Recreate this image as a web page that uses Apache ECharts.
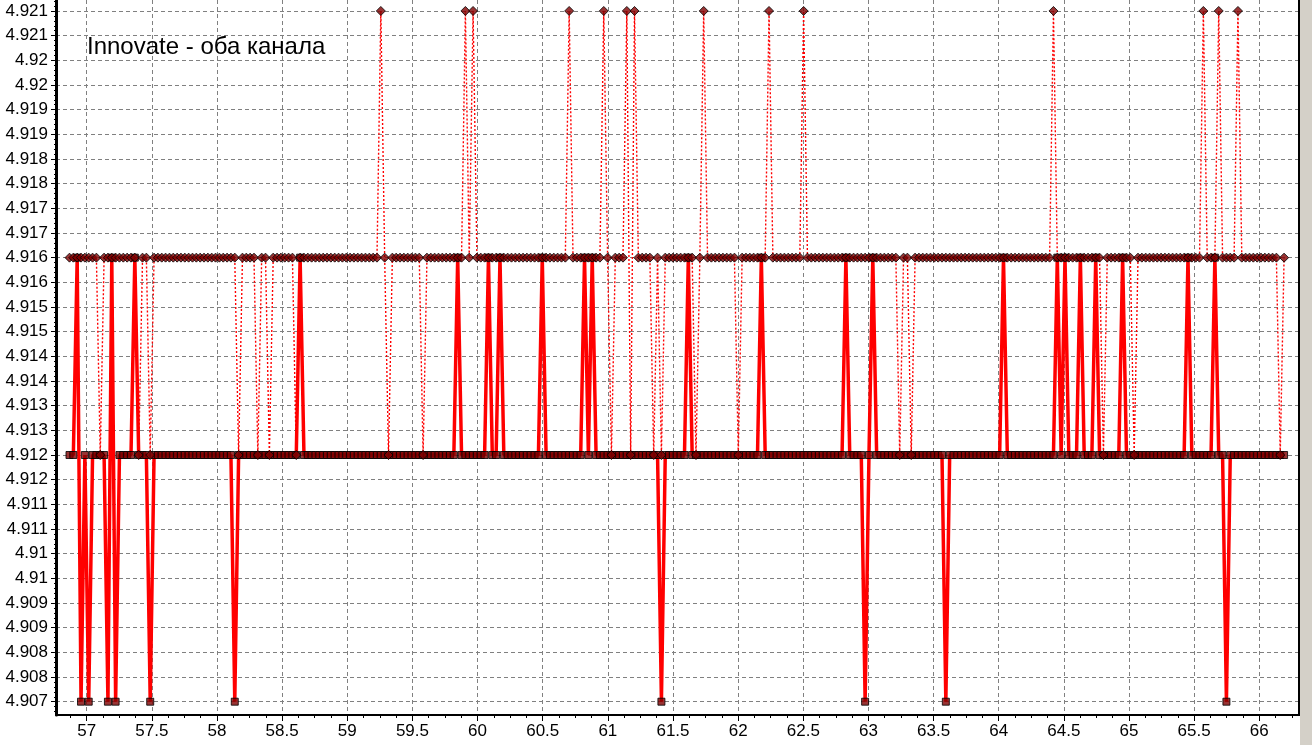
<!DOCTYPE html>
<html><head><meta charset="utf-8">
<script src="https://cdn.jsdelivr.net/npm/echarts@6/dist/echarts.min.js"></script>
<style>html,body{margin:0;padding:0;background:#fff;overflow:hidden}#c{width:1312px;height:745px}</style>
</head><body><div id="c"></div>
<script>
// ---- data ----
const titleText = 'Innovate - оба канала';
const sampleStart = 56.868;   // time of first logged sample
const sampleStep = 0.0295;    // logger sample period
// channel A (diamonds, dotted line): [value, number of consecutive samples]
const chanA_runs = [
  [4.916,8],[4.912,1],[4.916,9],[4.912,1],[4.916,2],[4.912,1],[4.916,22],[4.912,1],
  [4.916,4],[4.912,1],[4.916,2],[4.912,1],[4.916,6],[4.912,1],[4.916,21],[4.921,1],
  [4.916,1],[4.912,1],[4.916,8],[4.912,1],[4.916,10],[4.921,1],[4.916,1],[4.921,1],
  [4.916,24],[4.921,1],[4.916,8],[4.921,1],[4.916,1],[4.912,1],[4.916,3],[4.921,1],
  [4.912,1],[4.921,1],[4.916,4],[4.912,1],[4.916,1],[4.912,1],[4.916,8],[4.912,1],
  [4.916,1],[4.921,1],[4.916,8],[4.912,1],[4.916,7],[4.921,1],[4.916,8],[4.921,1],
  [4.916,24],[4.912,1],[4.916,2],[4.912,1],[4.916,36],[4.921,1],[4.916,12],[4.912,1],
  [4.916,7],[4.912,1],[4.916,17],[4.921,1],[4.916,3],[4.921,1],[4.916,4],[4.921,1],
  [4.916,10],[4.912,1],[4.916,1]
];
// channel B (squares, thick line)
const chanB_runs = [
  [4.912,2],[4.916,1],[4.907,1],[4.912,1],[4.907,1],[4.912,4],[4.907,1],[4.916,1],
  [4.907,1],[4.912,4],[4.916,1],[4.912,3],[4.907,1],[4.912,21],[4.907,1],[4.912,16],
  [4.916,1],[4.912,40],[4.916,1],[4.912,7],[4.916,1],[4.912,2],[4.916,1],[4.912,10],
  [4.916,1],[4.912,10],[4.916,1],[4.912,1],[4.916,1],[4.912,17],[4.907,1],[4.912,6],
  [4.916,1],[4.912,18],[4.916,1],[4.912,21],[4.916,1],[4.912,4],[4.907,1],[4.912,1],
  [4.916,1],[4.912,18],[4.907,1],[4.912,14],[4.916,1],[4.912,13],[4.916,1],[4.912,1],
  [4.916,1],[4.912,3],[4.916,1],[4.912,3],[4.916,1],[4.912,6],[4.916,1],[4.912,16],
  [4.916,1],[4.912,6],[4.916,1],[4.912,2],[4.907,1],[4.912,15]
];
const xTickValues = [57,57.5,58,58.5,59,59.5,60,60.5,61,61.5,62,62.5,63,63.5,64,64.5,65,65.5,66];
const yTickValues = [4.907,4.9075,4.908,4.9085,4.909,4.9095,4.91,4.9105,4.911,4.9115,4.912,4.9125,4.913,4.9135,
  4.914,4.9145,4.915,4.9155,4.916,4.9165,4.917,4.9175,4.918,4.9185,4.919,4.9195,4.92,4.9205,4.921];
const yTickLabels = ['4.907','4.908','4.908','4.909','4.909','4.91','4.91','4.911','4.911','4.912','4.912','4.913','4.913','4.914',
  '4.914','4.915','4.915','4.916','4.916','4.917','4.917','4.918','4.918','4.919','4.919','4.92','4.92','4.921','4.921'];

// ---- build ----
function expand(runs){const out=[];runs.forEach(r=>{for(let k=0;k<r[1];k++)out.push(r[0]);});return out;}
const valsA = expand(chanA_runs), valsB = expand(chanB_runs);
const dataA = valsA.map((v,i)=>[sampleStart+i*sampleStep, v]);
const dataB = valsB.map((v,i)=>[sampleStart+i*sampleStep, v]);

const xMin = 56.7644, xMax = 66.3046, yMin = 4.9067304, yMax = 4.921222;
const xMinor = []; for (let k=0;k<=80;k++){const v=56.875+k*0.125; if(v<xMax) xMinor.push(+v.toFixed(3));}
const yMinor = []; for (let k=0;k<=150;k++){const v=4.9068+k*0.0001; if(v<yMax) yMinor.push(+v.toFixed(4));}

const font = 'Arial, "Liberation Sans", sans-serif';
const chart = echarts.init(document.getElementById('c'), null, {renderer:'canvas'});
chart.setOption({
  animation:false,
  backgroundColor:'#ffffff',
  grid:{left:56, right:13, top:0, bottom:30, containLabel:false},
  xAxis:[{
    type:'value', min:xMin, max:xMax, position:'bottom',
    axisLine:{show:true, onZero:false, lineStyle:{color:'#000', width:2}},
    axisTick:{show:true, customValues:xTickValues, length:6, lineStyle:{color:'#000'}},
    axisLabel:{show:true, customValues:xTickValues, margin:8, color:'#000', fontSize:17, fontFamily:font,
      formatter:v=>String(+v.toFixed(1))},
    splitLine:{show:true, lineStyle:{color:'#808080', width:1, type:[4,3]}}
  },{
    type:'value', min:xMin, max:xMax, position:'bottom', offset:0,
    axisLine:{show:false}, axisLabel:{show:false}, splitLine:{show:false},
    axisTick:{show:true, customValues:xMinor, length:3, lineStyle:{color:'#000'}}
  }],
  yAxis:[{
    type:'value', min:yMin, max:yMax, position:'left',
    axisLine:{show:true, onZero:false, lineStyle:{color:'#000', width:3}},
    axisTick:{show:true, customValues:yTickValues, length:5, lineStyle:{color:'#000'}},
    axisLabel:{show:true, customValues:yTickValues, margin:8, color:'#000', fontSize:17, fontFamily:font,
      formatter:v=>{let b=0;for(let k=1;k<yTickValues.length;k++){if(Math.abs(yTickValues[k]-v)<Math.abs(yTickValues[b]-v))b=k;}return yTickLabels[b];}},
    splitLine:{show:true, lineStyle:{color:'#808080', width:1, type:[4,3]}}
  },{
    type:'value', min:yMin, max:yMax, position:'left', offset:0,
    axisLine:{show:false}, axisLabel:{show:false}, splitLine:{show:false},
    axisTick:{show:true, customValues:yMinor, length:2, lineStyle:{color:'#000'}}
  }],
  series:[
    {type:'line', name:'B', data:dataB, xAxisIndex:0, yAxisIndex:0, symbol:'none', clip:true,
     lineStyle:{color:'#ff0000', width:3.5}, z:2},
    {type:'line', name:'A', data:dataA, xAxisIndex:0, yAxisIndex:0, symbol:'none', clip:true,
     lineStyle:{color:'#ff0000', width:1.4, type:[2,2]}, z:3},
    {type:'scatter', name:'B markers', data:dataB, symbol:'rect', symbolSize:7, z:4,
     itemStyle:{color:'#800000', borderColor:'#000', borderWidth:1}},
    {type:'scatter', name:'A markers', data:dataA, symbol:'diamond', symbolSize:[9,9], z:5,
     itemStyle:{color:'#800000', borderColor:'#000', borderWidth:1}}
  ],
  graphic:[
    {type:'text', left:87, top:35, z:10, style:{text:titleText, font:'24px '+font, fill:'#000'}},
    {type:'rect', shape:{x:1298, y:0, width:2, height:716}, style:{fill:'#000'}, z:10},
    {type:'rect', shape:{x:1300, y:0, width:12, height:745}, style:{fill:'#d4d0c8'}, z:10}
  ]
});
</script></body></html>
